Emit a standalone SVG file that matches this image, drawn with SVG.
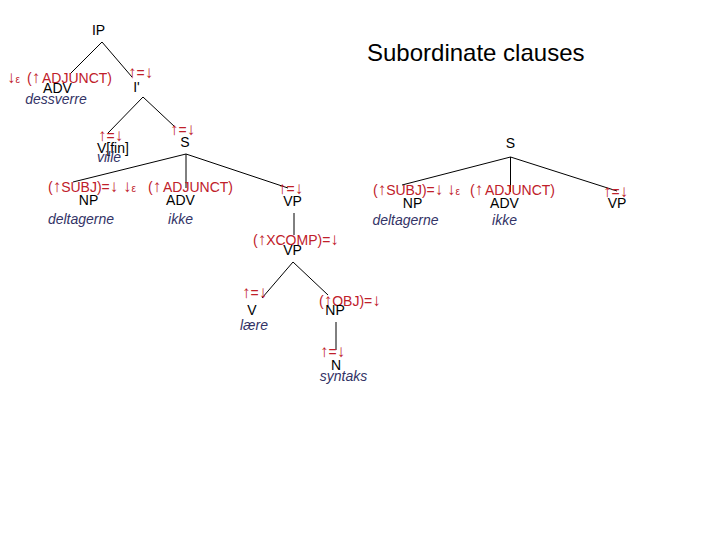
<svg xmlns="http://www.w3.org/2000/svg" width="720" height="540" viewBox="0 0 720 540">
<style>
text{font-family:"Liberation Sans",Arial,"DejaVu Sans",sans-serif;font-size:14px}
.n{fill:#000;text-anchor:middle}
.a{fill:#c0202a;font-size:14px}
.r{font-size:17px}
.w{fill:#333366;font-style:italic;text-anchor:middle}
.e{font-size:10px}
.t{fill:#000;font-size:24px}
#edges line{stroke:#000;stroke-width:1}
</style>
<rect width="720" height="540" fill="#fff"/>
<text class="t" x="367" y="61">Subordinate clauses</text>
<g id="edges">
<line x1="102" y1="42" x2="70" y2="74"/>
<line x1="102" y1="42" x2="132" y2="77"/>
<line x1="143" y1="97" x2="108" y2="133"/>
<line x1="143" y1="97" x2="175" y2="127"/>
<line x1="186" y1="154" x2="73" y2="182"/>
<line x1="186" y1="154" x2="186" y2="188"/>
<line x1="186" y1="154" x2="288" y2="188"/>
<line x1="294" y1="213" x2="294" y2="235"/>
<line x1="293" y1="262" x2="262" y2="298"/>
<line x1="293" y1="262" x2="328" y2="295"/>
<line x1="336" y1="322" x2="336" y2="350"/>
<line x1="510.5" y1="157" x2="402" y2="185"/>
<line x1="510.5" y1="157" x2="510.5" y2="192"/>
<line x1="510.5" y1="157" x2="617" y2="191"/>
</g>
<g id="IP"><text class="n" x="98.5" y="35">IP</text></g>
<g id="ADV1"><text class="a" x="7" y="83"><tspan class="r">↓</tspan><tspan class="e">ε</tspan><tspan x="27">(</tspan><tspan class="r">↑</tspan><tspan x="42">ADJUNCT)</tspan></text><text class="n" x="57.5" y="92.5">ADV</text><text class="w" x="56" y="104">dessverre</text></g>
<g id="Ibar"><text class="a" x="128" y="78"><tspan class="r">↑</tspan>=<tspan class="r">↓</tspan></text><text class="n" x="136.5" y="92">I'</text></g>
<g id="Vfin"><text class="a" x="98" y="141"><tspan class="r">↑</tspan>=<tspan class="r">↓</tspan></text><text x="97" y="153" fill="#000">V[fin]</text><text class="w" x="97" y="162" style="text-anchor:start">ville</text></g>
<g id="S1"><text class="a" x="170" y="135"><tspan class="r">↑</tspan>=<tspan class="r">↓</tspan></text><text class="n" x="185" y="147">S</text></g>
<g id="NP1"><text class="a" x="48" y="192">(<tspan class="r">↑</tspan>SUBJ)=<tspan class="r">↓</tspan></text><text class="n" x="88.5" y="205">NP</text><text class="w" x="81" y="224">deltagerne</text></g>
<g id="ADV2"><text class="a" x="123" y="192"><tspan class="r">↓</tspan><tspan class="e">ε</tspan><tspan x="148">(</tspan><tspan class="r">↑</tspan><tspan x="163">ADJUNCT)</tspan></text><text class="n" x="180.5" y="205">ADV</text><text class="w" x="180.5" y="224">ikke</text></g>
<g id="VP1"><text class="a" x="278" y="194"><tspan class="r">↑</tspan>=<tspan class="r">↓</tspan></text><text class="n" x="292.5" y="206">VP</text></g>
<g id="VP2"><text class="a" x="253" y="245">(<tspan class="r">↑</tspan>XCOMP)=<tspan class="r">↓</tspan></text><text class="n" x="292.5" y="255">VP</text></g>
<g id="V"><text class="a" x="242" y="298"><tspan class="r">↑</tspan>=<tspan class="r">↓</tspan></text><text class="n" x="252" y="315">V</text><text class="w" x="254" y="330">lære</text></g>
<g id="NP2"><text class="a" x="319" y="306">(<tspan class="r">↑</tspan>OBJ)=<tspan class="r">↓</tspan></text><text class="n" x="335" y="315">NP</text></g>
<g id="N"><text class="a" x="320" y="357"><tspan class="r">↑</tspan>=<tspan class="r">↓</tspan></text><text class="n" x="336" y="370">N</text><text class="w" x="343.5" y="381">syntaks</text></g>
<g id="S2"><text class="n" x="510.5" y="148">S</text></g>
<g id="NP3"><text class="a" x="373" y="195">(<tspan class="r">↑</tspan>SUBJ)=<tspan class="r">↓</tspan></text><text class="n" x="412.5" y="208">NP</text><text class="w" x="405.5" y="225">deltagerne</text></g>
<g id="ADV3"><text class="a" x="447" y="195"><tspan class="r">↓</tspan><tspan class="e">ε</tspan><tspan x="470">(</tspan><tspan class="r">↑</tspan><tspan x="485">ADJUNCT)</tspan></text><text class="n" x="504.5" y="208">ADV</text><text class="w" x="504.5" y="225">ikke</text></g>
<g id="VP3"><text class="a" x="603" y="197"><tspan class="r">↑</tspan>=<tspan class="r">↓</tspan></text><text class="n" x="617" y="208">VP</text></g>
</svg>
